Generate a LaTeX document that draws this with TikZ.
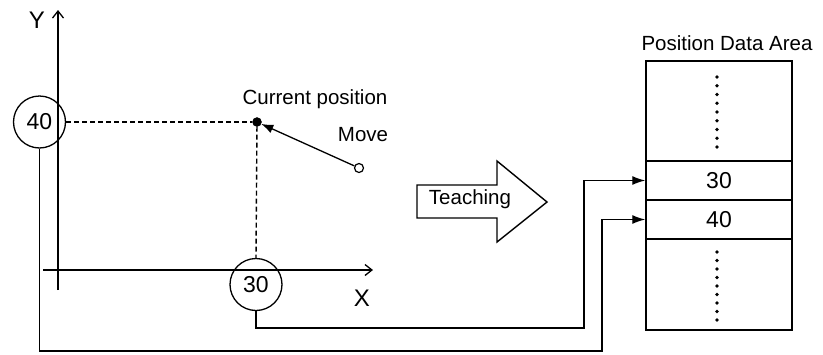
\documentclass[tikz,border=0pt]{standalone}
\usepackage{fontspec}
\setmainfont{Liberation Sans}
\usetikzlibrary{arrows.meta}
\begin{document}
\begin{tikzpicture}[x=1pt,y=-1pt,
  every node/.style={font=\fontsize{20.5}{24}\selectfont, inner sep=0pt},
  big/.style={font=\fontsize{23}{26}\selectfont},
  ln/.style={line width=1.4pt},
  axis/.style={ln, -{Straight Barb[length=7pt,width=11pt,line width=1.3pt]}},
  conn/.style={line width=1.3pt, -{Latex[length=13pt,width=9pt]}},
  dsh/.style={line width=1.4pt, dash pattern=on 5pt off 3pt},
  valc/.style={draw, circle, line width=1.3pt, minimum size=52pt, big},
  cell/.style={draw, rectangle, line width=1.4pt, minimum width=146pt, big}
]
\useasboundingbox (0,0) rectangle (823,354);
% axes
\coordinate (yb) at (58,290);
\coordinate (yt) at (58,10);
\coordinate (xl) at (43,270);
\coordinate (xr) at (373,270);
\draw[axis] (yb) -- (yt);
\draw[axis] (xl) -- (xr);
\node[font=\fontsize{24}{28}\selectfont] (ylab) at (37,20) {Y};
\node[font=\fontsize{24}{28}\selectfont] (xlab) at (362,298) {X};
% value circles
\node[valc] (c40) at (39.5,122) {40};
\node[valc] (c30) at (256,284.5) {30};
% current position
\node[draw, fill=black, circle, minimum size=9pt] (cur) at (257,122) {};
\node[draw, fill=white, circle, line width=1.2pt, minimum size=9pt] (start) at (359,168) {};
\draw[dsh] (c40.east |- cur) -- (cur);
\draw[dsh] (cur) -- (c30.north);
\draw[line width=1.3pt, -{Latex[length=12pt,width=9pt]}] (start) -- (cur);
\node (curlab) at (315,99) {Current position};
\node (movelab) at (363,135) {Move};
% teaching arrow
\draw[ln] (417,185) -- (497,185) -- (497,161) -- (547,202) -- (497,242) -- (497,218) -- (417,218) -- cycle;
\node (teach) at (470,199) {Teaching};
% data area
\node (title) at (727,43) {Position Data Area};
\node[cell, minimum height=100pt] (topc) at (719,111) {};
\node[cell, minimum height=39pt] (cell30) at (719,180.5) {30};
\node[cell, minimum height=39pt] (cell40) at (719,219.5) {40};
\node[cell, minimum height=91pt] (botc) at (719,284.5) {};
\foreach \i in {0,...,8} {
  \fill (717,77+\i*8.75) circle (1.9pt);
  \fill (717,252+\i*8.5) circle (1.9pt);
}
% connectors
\coordinate (b40) at (39.5,351);
\coordinate (r40) at (602,351);
\draw[conn] (c40.south) -- (b40) -- (r40) -- (r40 |- cell40.west) -- (cell40.west);
\coordinate (b30) at (256,328);
\coordinate (r30) at (584,328);
\draw[conn] (c30.south) -- (b30) -- (r30) -- (r30 |- cell30.west) -- (cell30.west);
\end{tikzpicture}
\end{document}
